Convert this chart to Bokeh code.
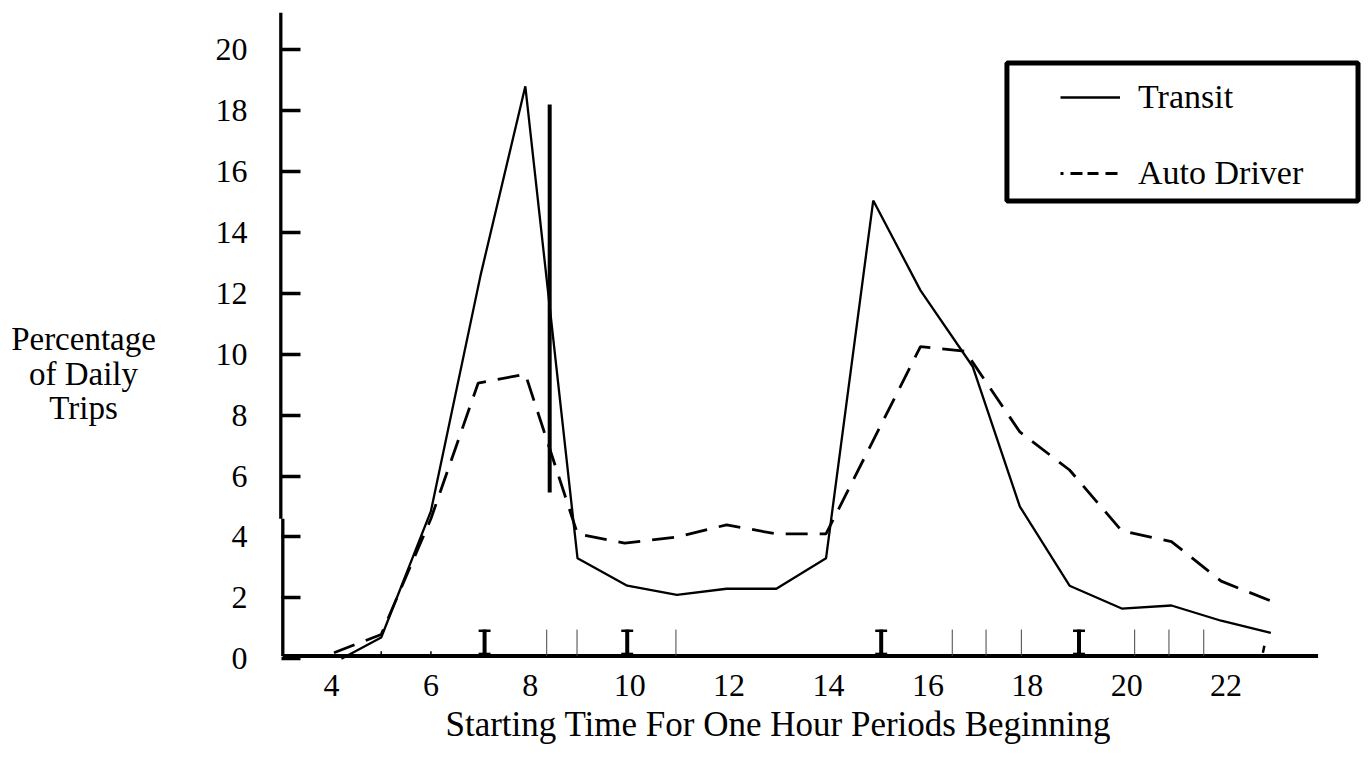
from bokeh.plotting import figure
from bokeh.models import Range1d, FixedTicker, Label, Legend, LegendItem
from bokeh.embed import file_html
from bokeh.resources import INLINE

# ---------------- data ----------------
transit_hours = [4.2, 5.0, 6.0, 7.0, 7.9, 8.95, 9.95, 10.95, 11.95, 12.95, 13.95,
                 14.9, 15.85, 16.9, 17.85, 18.85, 19.9, 20.9, 21.9, 22.9]
transit_pct = [0.0, 0.7, 4.85, 12.6, 18.8, 3.3, 2.4, 2.1, 2.3, 2.3, 3.3,
               15.05, 12.1, 9.6, 5.0, 2.4, 1.65, 1.75, 1.25, 0.85]

auto_hours = [4.05, 5.0, 6.0, 6.95, 7.9, 8.95, 9.9, 10.95, 11.95, 12.95, 13.95,
              15.85, 16.75, 17.85, 18.85, 19.9, 20.9, 21.9, 22.9]
auto_pct = [0.2, 0.8, 4.6, 9.05, 9.35, 4.1, 3.8, 4.0, 4.4, 4.1, 4.1,
            10.25, 10.1, 7.45, 6.2, 4.2, 3.85, 2.55, 1.9]

x_ticks = [4, 6, 8, 10, 12, 14, 16, 18, 20, 22]
y_ticks = [0, 2, 4, 6, 8, 10, 12, 14, 16, 18, 20]

# marks along the time axis in the scanned original
serif_mark_hours = [7.08, 9.95, 15.06, 19.04]
thin_mark_hours = [8.33, 8.94, 10.93, 16.49, 17.17, 17.88, 20.16, 20.85, 21.55]
small_tick_hours = [5.0, 6.0]
comma_hour = 22.76
bar_hour = 8.39
bar_low, bar_high = 5.46, 18.2

x_title = "Starting Time For One Hour Periods Beginning"
y_title_lines = ["Percentage", "of Daily", "Trips"]
series_names = ["Transit", "Auto Driver"]

# ---------------- figure (frame = whole canvas, axes placed inside) ----------------
SERIF = "Liberation Serif"
NAN = float("nan")
p = figure(width=1369, height=760,
           x_range=Range1d(-2.660, 24.885), y_range=Range1d(-3.340, 21.619),
           min_border=0, min_border_left=0, min_border_right=0,
           min_border_top=0, min_border_bottom=0,
           toolbar_location=None, output_backend="svg")
p.outline_line_color = None
p.xgrid.grid_line_color = None
p.ygrid.grid_line_color = None
p.background_fill_color = "white"
p.border_fill_color = "white"

# x axis: labels only, placed just under the drawn axis line
p.xaxis.fixed_location = -0.11
p.xaxis.ticker = FixedTicker(ticks=x_ticks)
p.xaxis.axis_line_color = None
p.xaxis.major_tick_line_color = None
p.xaxis.minor_tick_line_color = None
p.xaxis.major_label_text_font = SERIF
p.xaxis.major_label_text_font_size = "32px"
p.xaxis.major_label_text_color = "black"
p.xaxis.major_label_standoff = 7

# y axis: ticks pointing inwards, labels on the left
p.yaxis.fixed_location = 2.994
p.yaxis.ticker = FixedTicker(ticks=y_ticks)
p.yaxis.axis_line_color = None
p.yaxis.major_tick_in = 19
p.yaxis.major_tick_out = 0
p.yaxis.major_tick_line_width = 3.5
p.yaxis.major_tick_line_color = "black"
p.yaxis.minor_tick_line_color = None
p.yaxis.major_label_text_font = SERIF
p.yaxis.major_label_text_font_size = "32px"
p.yaxis.major_label_text_color = "black"
p.yaxis.major_label_standoff = 34

# axis lines (the vertical one is broken/offset in the scan)
axis_y = 0.092
p.segment(x0=[3.02], y0=[axis_y], x1=[23.85], y1=[axis_y], line_width=4, color="black")
p.segment(x0=[2.98], y0=[4.6], x1=[2.98], y1=[21.22], line_width=3.3, color="black")
p.segment(x0=[3.02], y0=[axis_y], x1=[3.02], y1=[4.6], line_width=3.3, color="black")

# marks on the time axis
mark_top = 0.96
n_s = len(serif_mark_hours)
p.segment(x0=serif_mark_hours, y0=[axis_y] * n_s, x1=serif_mark_hours, y1=[mark_top] * n_s,
          line_width=4, color="black")
p.segment(x0=[h - 0.12 for h in serif_mark_hours], y0=[mark_top - 0.04] * n_s,
          x1=[h + 0.12 for h in serif_mark_hours], y1=[mark_top - 0.04] * n_s,
          line_width=2.5, color="black")
p.segment(x0=[h - 0.12 for h in serif_mark_hours], y0=[0.16] * n_s,
          x1=[h + 0.12 for h in serif_mark_hours], y1=[0.16] * n_s,
          line_width=2.5, color="black")
n_t = len(thin_mark_hours)
p.segment(x0=thin_mark_hours, y0=[axis_y] * n_t, x1=thin_mark_hours, y1=[mark_top] * n_t,
          line_width=1, color="#444444")
p.segment(x0=small_tick_hours, y0=[axis_y] * len(small_tick_hours),
          x1=small_tick_hours, y1=[0.25] * len(small_tick_hours),
          line_width=1.5, color="black")
p.segment(x0=[comma_hour + 0.01], y0=[0.43], x1=[comma_hour - 0.02], y1=[0.2],
          line_width=2.5, color="black")

# vertical bar
p.segment(x0=[bar_hour], y0=[bar_low], x1=[bar_hour], y1=[bar_high],
          line_width=4, color="black")

# series
p.line(transit_hours, transit_pct, line_width=2.3, color="black")
p.line(auto_hours, auto_pct, line_width=2.8, color="black", line_dash="22 12")

# legend (samples + frame)
leg_t = p.line(x=[NAN, NAN], y=[NAN, NAN], line_width=2.5, color="black")
leg_a = p.line(x=[NAN, NAN], y=[NAN, NAN], line_width=3, color="black",
               line_dash="3 7 12 5 11 7 12 10")
legend = Legend(items=[LegendItem(label=series_names[0], renderers=[leg_t]),
                       LegendItem(label=series_names[1], renderers=[leg_a])],
                location=(1060, 567), orientation="vertical",
                border_line_color=None, background_fill_alpha=0,
                padding=0, margin=0, spacing=36,
                glyph_width=60, glyph_height=40, label_height=40,
                label_standoff=18, label_text_font=SERIF,
                label_text_font_size="34px", label_text_color="black")
p.add_layout(legend, "center")
p.quad(left=[17.59], right=[24.654], top=[19.566], bottom=[15.034],
       fill_color=None, line_color="black", line_width=5)

# titles
p.add_layout(Label(x=12.99, y=-2.158, text=x_title, text_align="center",
                   text_baseline="middle", text_font=SERIF,
                   text_font_size="35px", text_color="black"))
for txt, yy in zip(y_title_lines, [10.49, 9.35, 8.22]):
    p.add_layout(Label(x=-0.99, y=yy, text=txt, text_align="center",
                       text_baseline="middle", text_font=SERIF,
                       text_font_size="33px", text_color="black"))

open("out.html", "w").write(file_html(p, INLINE))
